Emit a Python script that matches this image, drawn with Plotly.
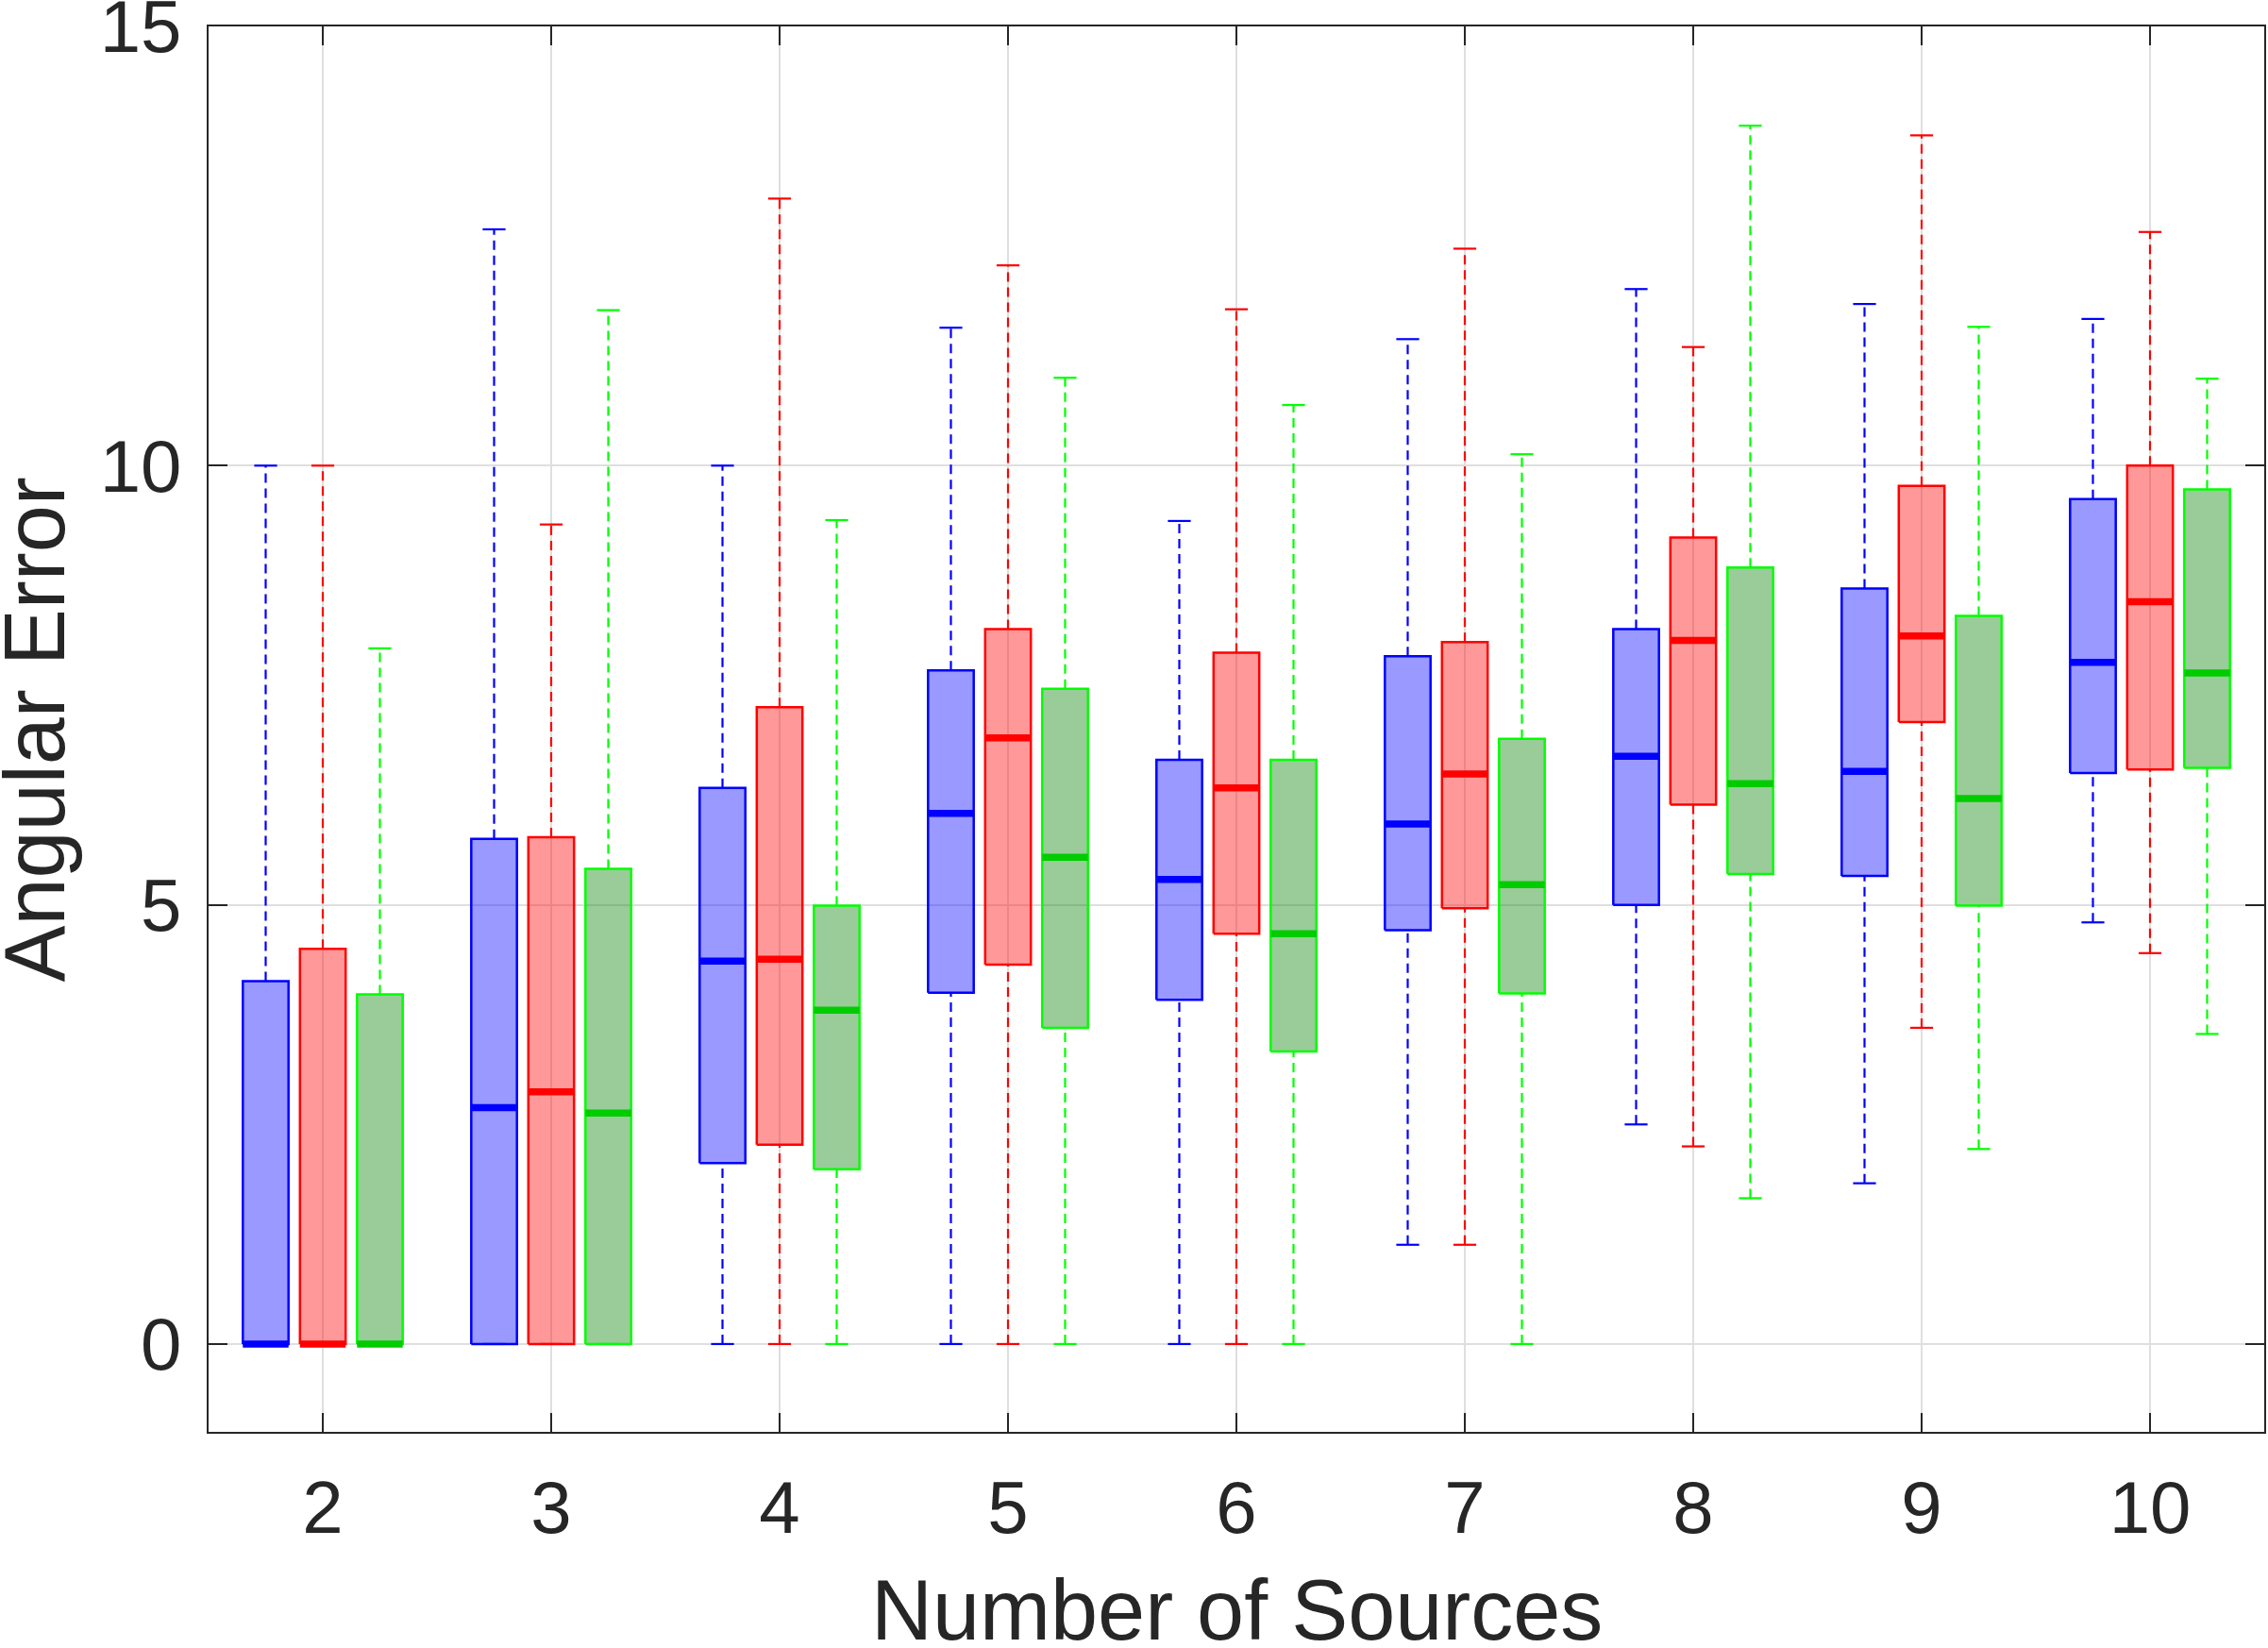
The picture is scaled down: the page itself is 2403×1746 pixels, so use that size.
import plotly.graph_objects as go

categories = [2, 3, 4, 5, 6, 7, 8, 9, 10]
x_tick_labels = ["2", "3", "4", "5", "6", "7", "8", "9", "10"]
y_tick_values = [0, 5, 10, 15]
x_title = "Number of Sources"
y_title = "Angular Error"

blue_upper = [10.0, 12.69, 10.0, 11.57, 9.37, 11.44, 12.01, 11.84, 11.67]
blue_q3 = [4.13, 5.75, 6.33, 7.67, 6.65, 7.83, 8.14, 8.60, 9.62]
blue_med = [0.0, 2.69, 4.36, 6.04, 5.29, 5.92, 6.69, 6.52, 7.76]
blue_q1 = [0.0, 0.0, 2.06, 4.00, 3.92, 4.71, 5.00, 5.33, 6.50]
blue_lower = [0.0, 0.0, 0.0, 0.0, 0.0, 1.13, 2.50, 1.83, 4.80]

red_upper = [10.0, 9.33, 13.04, 12.28, 11.78, 12.47, 11.35, 13.76, 12.66]
red_q3 = [4.50, 5.77, 7.25, 8.14, 7.87, 7.99, 9.18, 9.77, 10.0]
red_med = [0.0, 2.87, 4.38, 6.90, 6.33, 6.49, 8.01, 8.06, 8.45]
red_q1 = [0.0, 0.0, 2.27, 4.32, 4.67, 4.96, 6.14, 7.08, 6.54]
red_lower = [0.0, 0.0, 0.0, 0.0, 0.0, 1.13, 2.25, 3.60, 4.45]

green_upper = [7.92, 11.77, 9.38, 11.00, 10.69, 10.13, 13.87, 11.58, 10.99]
green_q3 = [3.98, 5.41, 4.99, 7.46, 6.65, 6.89, 8.84, 8.29, 9.73]
green_med = [0.0, 2.63, 3.80, 5.54, 4.67, 5.23, 6.38, 6.21, 7.64]
green_q1 = [0.0, 0.0, 1.99, 3.60, 3.33, 3.99, 5.35, 4.99, 6.56]
green_lower = [0.0, 0.0, 0.0, 0.0, 0.0, 0.0, 1.66, 2.22, 3.53]

series = [
    dict(name="Blue", offset=-0.25, upper=blue_upper, q3=blue_q3, med=blue_med, q1=blue_q1, lower=blue_lower,
         edge="#0000FF", fill="rgba(0,0,255,0.4)", median="#0000FF", whisker="#0000FF"),
    dict(name="Red", offset=0.0, upper=red_upper, q3=red_q3, med=red_med, q1=red_q1, lower=red_lower,
         edge="#FF0000", fill="rgba(255,0,0,0.4)", median="#FF0000", whisker="#FF0000"),
    dict(name="Green", offset=0.25, upper=green_upper, q3=green_q3, med=green_med, q1=green_q1, lower=green_lower,
         edge="#00FF00", fill="rgba(0,128,0,0.4)", median="#00CC00", whisker="#00FF00"),
]

BOX_HALF = 0.1
CAP_HALF = 0.05

fig = go.Figure()

for s in series:
    bx, by = [], []
    wx, wy = [], []
    cx, cy = [], []
    mx, my = [], []
    for i, c in enumerate(categories):
        xc = c + s["offset"]
        xl, xr = xc - BOX_HALF, xc + BOX_HALF
        bx += [xl, xr, xr, xl, xl, None]
        by += [s["q1"][i], s["q1"][i], s["q3"][i], s["q3"][i], s["q1"][i], None]
        wx += [xc, xc, None, xc, xc, None]
        wy += [s["q3"][i], s["upper"][i], None, s["lower"][i], s["q1"][i], None]
        cx += [xc - CAP_HALF, xc + CAP_HALF, None, xc - CAP_HALF, xc + CAP_HALF, None]
        cy += [s["upper"][i], s["upper"][i], None, s["lower"][i], s["lower"][i], None]
        mx += [xl, xr, None]
        my += [s["med"][i], s["med"][i], None]
    fig.add_trace(go.Scatter(x=bx, y=by, mode="lines", fill="toself", fillcolor=s["fill"],
                             line=dict(color=s["edge"], width=2.5), name=s["name"], showlegend=False,
                             hoverinfo="skip"))
    fig.add_trace(go.Scatter(x=wx, y=wy, mode="lines",
                             line=dict(color=s["whisker"], width=2.2, dash="10px,6px"),
                             showlegend=False, hoverinfo="skip"))
    fig.add_trace(go.Scatter(x=cx, y=cy, mode="lines",
                             line=dict(color=s["whisker"], width=2.2),
                             showlegend=False, hoverinfo="skip"))
    fig.add_trace(go.Scatter(x=mx, y=my, mode="lines",
                             line=dict(color=s["median"], width=7.5),
                             showlegend=False, hoverinfo="skip"))

axis_color = "#262626"
fig.update_layout(
    width=2403, height=1746,
    margin=dict(l=221, r=4, t=28, b=229),
    paper_bgcolor="white", plot_bgcolor="white",
    font=dict(family="Liberation Sans, Arial, sans-serif", color=axis_color, size=78),
    showlegend=False,
)
fig.update_xaxes(
    range=[1.5, 10.5], tickmode="array", tickvals=categories, ticktext=x_tick_labels,
    showgrid=True, gridcolor="#dfdfdf", gridwidth=2, zeroline=False,
    showline=True, linecolor=axis_color, linewidth=2, mirror="ticks",
    ticks="inside", ticklen=20, tickwidth=2, tickcolor=axis_color,
    tickfont=dict(size=78), ticklabelstandoff=11, automargin=False,
)
fig.update_yaxes(
    range=[-1, 15], tickmode="array", tickvals=y_tick_values,
    showgrid=True, gridcolor="#dfdfdf", gridwidth=2, zeroline=False,
    showline=True, linecolor=axis_color, linewidth=2, mirror="ticks",
    ticks="inside", ticklen=20, tickwidth=2, tickcolor=axis_color,
    tickfont=dict(size=78), ticklabelstandoff=11, ticklabeloverflow="allow",
    automargin=False,
)
fig.add_annotation(text=x_title, xref="paper", yref="paper", x=0.5, y=-0.1269,
                   xanchor="center", yanchor="middle", showarrow=False,
                   font=dict(size=90, color=axis_color))
fig.add_annotation(text=y_title, xref="paper", yref="paper", x=-0.0845, y=0.5,
                   xanchor="center", yanchor="middle", showarrow=False, textangle=-90,
                   font=dict(size=90, color=axis_color))

fig.write_html("out.html", config={"displayModeBar": False},
               post_script="document.body.style.margin='0px';document.body.style.overflow='hidden';")
